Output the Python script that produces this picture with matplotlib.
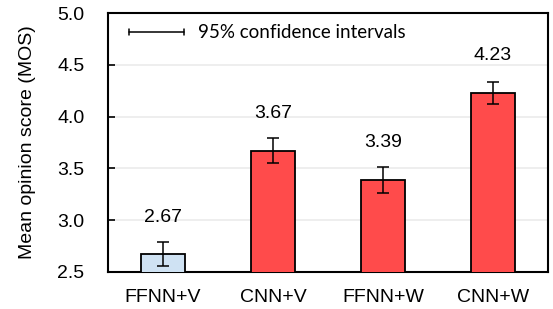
import matplotlib
matplotlib.use("Agg")
import matplotlib.pyplot as plt

categories = ["FFNN+V", "CNN+V", "FFNN+W", "CNN+W"]
mos = [2.67, 3.67, 3.39, 4.23]
ci = [0.115, 0.12, 0.125, 0.105]
colors = ["#CFE2F3", "#FF4B4B", "#FF4B4B", "#FF4B4B"]
yticks = [2.5, 3.0, 3.5, 4.0, 4.5, 5.0]

plt.rcParams['font.family'] = ['Liberation Sans', 'DejaVu Sans']

fig = plt.figure(figsize=(5.53, 3.09), dpi=100)
ax = fig.add_axes([108/553, 1 - 272/309, 440/553, (272 - 13)/309])

x = list(range(len(categories)))
ax.bar(x, mos, width=0.4, color=colors, edgecolor="black", linewidth=1.3, zorder=3)
ax.errorbar(x, mos, yerr=ci, fmt="none", ecolor="black", elinewidth=1.1,
            capsize=4, capthick=1.1, zorder=4)
for xi, v in zip(x, mos):
    ax.text(xi, v + 0.36, f"{v:.2f}", ha="center", va="center", fontsize=14)

ax.set_xlim(-0.5, 3.5)
ax.set_ylim(2.5, 5.0)
ax.set_yticks(yticks)
ax.set_yticklabels([f"{t:.1f}" for t in yticks], fontsize=14)
ax.set_xticks(x)
ax.set_xticklabels(categories, fontsize=14)
ax.tick_params(axis="x", length=0, pad=12)
ax.tick_params(axis="y", direction="in", length=5, width=1.2, pad=17)
ax.yaxis.grid(True, color="#EBEBEB", linewidth=1.2, zorder=0)
ax.set_axisbelow(True)
for s in ax.spines.values():
    s.set_linewidth(1.5)
ax.set_ylabel("Mean opinion score (MOS)", fontsize=14, labelpad=15)

# legend-like annotation for confidence intervals
ax.annotate("", xy=(184/553, 1 - 32/309), xytext=(129/553, 1 - 32/309),
            xycoords="figure fraction",
            arrowprops=dict(arrowstyle="|-|,widthA=0.25,widthB=0.25", lw=1.1, color="black",
                            shrinkA=0, shrinkB=0))
fig.text(198/553, 1 - 32/309, "95% confidence intervals", fontsize=13.5,
         family=["Lato", "DejaVu Sans"], va="center", ha="left")

fig.savefig("out.png", dpi=100)
